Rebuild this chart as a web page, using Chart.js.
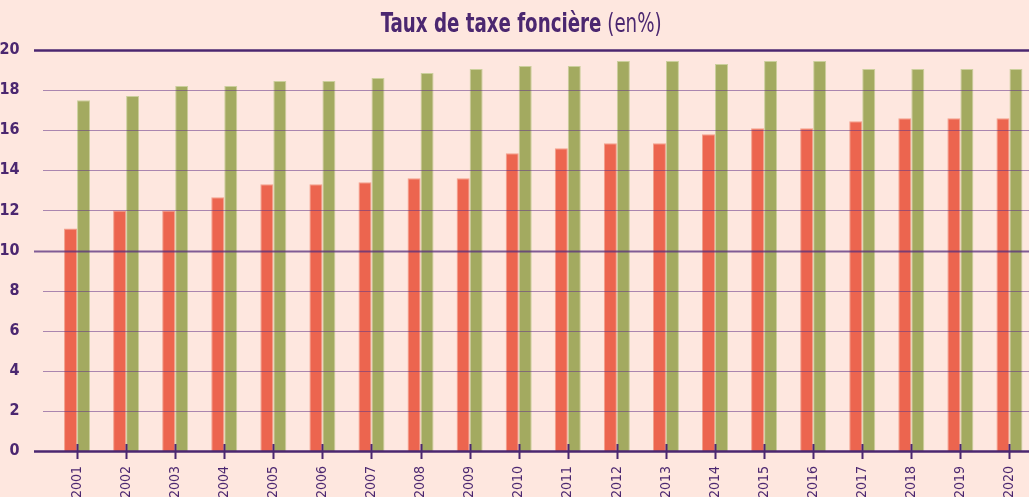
<!DOCTYPE html>
<html>
<head>
<meta charset="utf-8">
<script src="https://cdn.jsdelivr.net/npm/chart.js@4"></script>
<style>
  html, body { margin: 0; padding: 0; background: #fee7df; overflow: hidden; }
  #wrap { position: relative; width: 1034px; height: 497px; }
  #title {
    position: absolute; left: 0; top: 8px; width: 1042px; text-align: center;
    font-family: "Liberation Sans Narrow", "DejaVu Sans Condensed", sans-serif;
    font-size: 26px; color: #4b2770; line-height: 30px;
  }
  #title .inner { display: inline-block; transform: scaleX(0.78); transform-origin: center; white-space: nowrap; }
  #title b { font-weight: bold; }
  #title span.light { font-weight: normal; }
</style>
</head>
<body>
<div id="wrap">
  <div id="title"><span class="inner"><b>Taux de taxe foncière</b> <span class="light">(en%)</span></span></div>
  <canvas id="taxChart" width="1034" height="497"></canvas>
</div>
<script>
const years = ['2001', '2002', '2003', '2004', '2005', '2006', '2007', '2008', '2009', '2010',
    '2011', '2012', '2013', '2014', '2015', '2016', '2017', '2018', '2019', '2020'];
const redRates = [11.1, 12.0, 12.0, 12.65, 13.3, 13.3, 13.4, 13.6, 13.6, 14.85,
    15.1, 15.35, 15.35, 15.8, 16.1, 16.1, 16.45, 16.6, 16.6, 16.6];
const greenRates = [17.5, 17.7, 18.2, 18.2, 18.45, 18.45, 18.6, 18.85, 19.05, 19.2,
    19.2, 19.45, 19.45, 19.3, 19.45, 19.45, 19.05, 19.05, 19.05, 19.05];
const yTicks = [0, 2, 4, 6, 8, 10, 12, 14, 16, 18, 20];

const purple = '#4b2770';
const fontFamily = '"Liberation Sans Narrow", "DejaVu Sans Condensed", sans-serif';

// horizontal lines over the bars + tick marks crossing the baseline
const linesPlugin = {
    id: 'lines',
    afterDatasetsDraw(chart) {
        const { ctx, scales: { x, y } } = chart;
        const right = 1029;
        ctx.save();
        yTicks.forEach((v) => {
            const py = Math.round(y.getPixelForValue(v)) + 0.5;
            ctx.beginPath();
            if (v === 0 || v === 20) {
                ctx.strokeStyle = purple;
                ctx.lineWidth = 2.5;
                ctx.moveTo(34, py);
            } else if (v === 10) {
                ctx.strokeStyle = 'rgba(85, 45, 125, 0.75)';
                ctx.lineWidth = 2;
                ctx.moveTo(34, py);
            } else {
                ctx.strokeStyle = 'rgba(100, 55, 135, 0.55)';
                ctx.lineWidth = 1.2;
                ctx.moveTo(43, py);
            }
            ctx.lineTo(right, py);
            ctx.stroke();
        });
        const y0 = y.getPixelForValue(0);
        ctx.strokeStyle = purple;
        ctx.lineWidth = 2;
        years.forEach((_, i) => {
            const px = Math.round(x.getPixelForTick(i)) + 0.5;
            ctx.beginPath();
            ctx.moveTo(px, y0 - 7);
            ctx.lineTo(px, y0 + 8);
            ctx.stroke();
        });
        ctx.restore();
    }
};

new Chart(document.getElementById('taxChart').getContext('2d'), {
    type: 'bar',
    data: {
        labels: years,
        datasets: [{
            data: redRates,
            backgroundColor: '#ec654f',
            borderColor: '#f2a08c',
            borderWidth: 1,
            barPercentage: 1.0,
            categoryPercentage: 0.53
        }, {
            data: greenRates,
            backgroundColor: '#a3aa60',
            borderColor: '#cbcf9c',
            borderWidth: 1,
            barPercentage: 1.0,
            categoryPercentage: 0.53
        }]
    },
    options: {
        responsive: false,
        animation: false,
        layout: { padding: { top: 50, right: 0, left: 0, bottom: 0 } },
        plugins: { legend: { display: false }, tooltip: { enabled: false } },
        scales: {
            x: {
                grid: { display: false },
                border: { display: false },
                ticks: {
                    color: purple,
                    font: { family: fontFamily, size: 14 },
                    minRotation: 90,
                    maxRotation: 90,
                    padding: 7
                },
                afterFit(scale) { scale.height = 46; }
            },
            y: {
                min: 0,
                max: 20,
                grid: { display: false },
                border: { display: false },
                ticks: {
                    stepSize: 2,
                    color: purple,
                    font: { family: fontFamily, size: 16, weight: 'bold' },
                    padding: 25
                },
                afterFit(scale) { scale.width = 52.5; }
            }
        }
    },
    plugins: [linesPlugin]
});
</script>
</body>
</html>
